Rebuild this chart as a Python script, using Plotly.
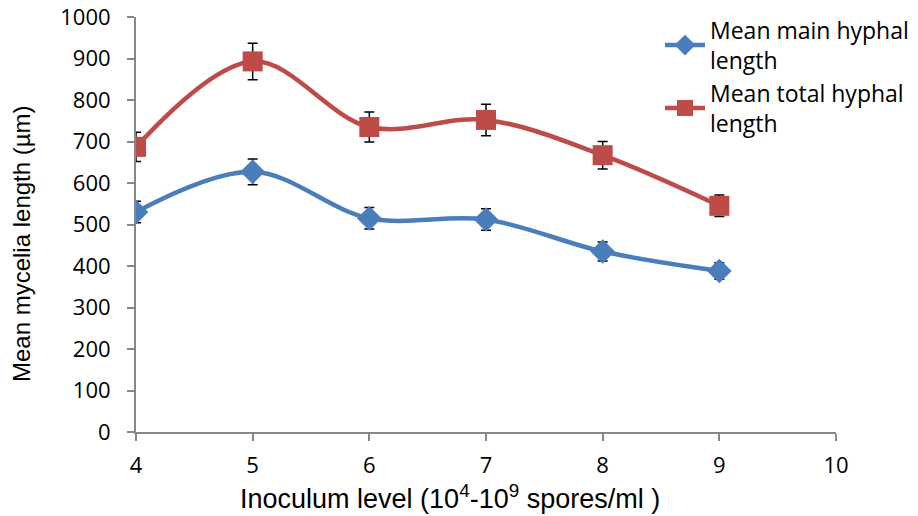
import plotly.graph_objects as go

x_levels = [4, 5, 6, 7, 8, 9]
main_len = [530, 627, 515, 512, 435, 388]
main_err = [26, 31, 26, 26, 23, 20]
total_len = [687, 893, 735, 752, 667, 545]
total_err = [35, 44, 36, 38, 33, 26]

x_ticks = [4, 5, 6, 7, 8, 9, 10]
y_ticks = [0, 100, 200, 300, 400, 500, 600, 700, 800, 900, 1000]

fig = go.Figure()
fig.add_trace(go.Scatter(
    x=x_levels, y=main_len, name="Mean main hyphal<br>length",
    mode="lines+markers", line=dict(color="#4A7EBB", width=4.5, shape="spline", smoothing=1),
    marker=dict(symbol="diamond", size=19, color="#4A7EBB"),
    error_y=dict(type="data", array=main_err, color="black", thickness=1.5, width=5),
))
fig.add_trace(go.Scatter(
    x=x_levels, y=total_len, name="Mean total hyphal<br>length",
    mode="lines+markers", line=dict(color="#BE4B48", width=4.5, shape="spline", smoothing=1),
    marker=dict(symbol="square", size=20, color="#BE4B48"),
    error_y=dict(type="data", array=total_err, color="black", thickness=1.5, width=5),
))

fig.update_layout(
    width=918, height=516,
    margin=dict(l=136, r=82, t=17, b=84, autoexpand=False),
    paper_bgcolor="white", plot_bgcolor="white",
    showlegend=True,
    legend=dict(x=(660 - 136) / 700, y=1.02, xanchor="left", yanchor="top",
                font=dict(family="Open Sans", size=23, color="black"),
                bgcolor="rgba(0,0,0,0)", tracegroupgap=2, itemwidth=40),
    xaxis=dict(range=[4, 10], tickvals=x_ticks, showgrid=False, zeroline=False,
               showline=True, linecolor="#888888", linewidth=2, ticks="outside",
               ticklen=7, tickcolor="#888888", tickwidth=2, automargin=False,
               ticklabelstandoff=6),
    yaxis=dict(range=[0, 1000], tickvals=y_ticks, showgrid=False, zeroline=False,
               showline=True, linecolor="#888888", linewidth=2, ticks="outside",
               ticklen=7, tickcolor="#888888", tickwidth=2, automargin=False,
               ticklabelstandoff=12),
    annotations=[
        dict(text="Inoculum level (10<sup>4</sup>-10<sup>9</sup> spores/ml )",
             xref="paper", yref="paper", x=(450 - 136) / 700, y=-(497 - 432) / 415,
             xanchor="center", yanchor="middle", showarrow=False,
             font=dict(family="Liberation Sans", size=27, color="black")),
        dict(text="Mean mycelia length (µm)", textangle=-90,
             xref="paper", yref="paper", x=-(136 - 21) / 700, y=(432 - 244) / 415,
             xanchor="center", yanchor="middle", showarrow=False,
             font=dict(family="Liberation Sans", size=24, color="black")),
    ],
)
fig.update_xaxes(tickfont_family="Open Sans", tickfont_size=22, tickfont_color="black")
fig.update_yaxes(tickfont_family="Open Sans", tickfont_size=22, tickfont_color="black")

fig.write_html("out.html")
